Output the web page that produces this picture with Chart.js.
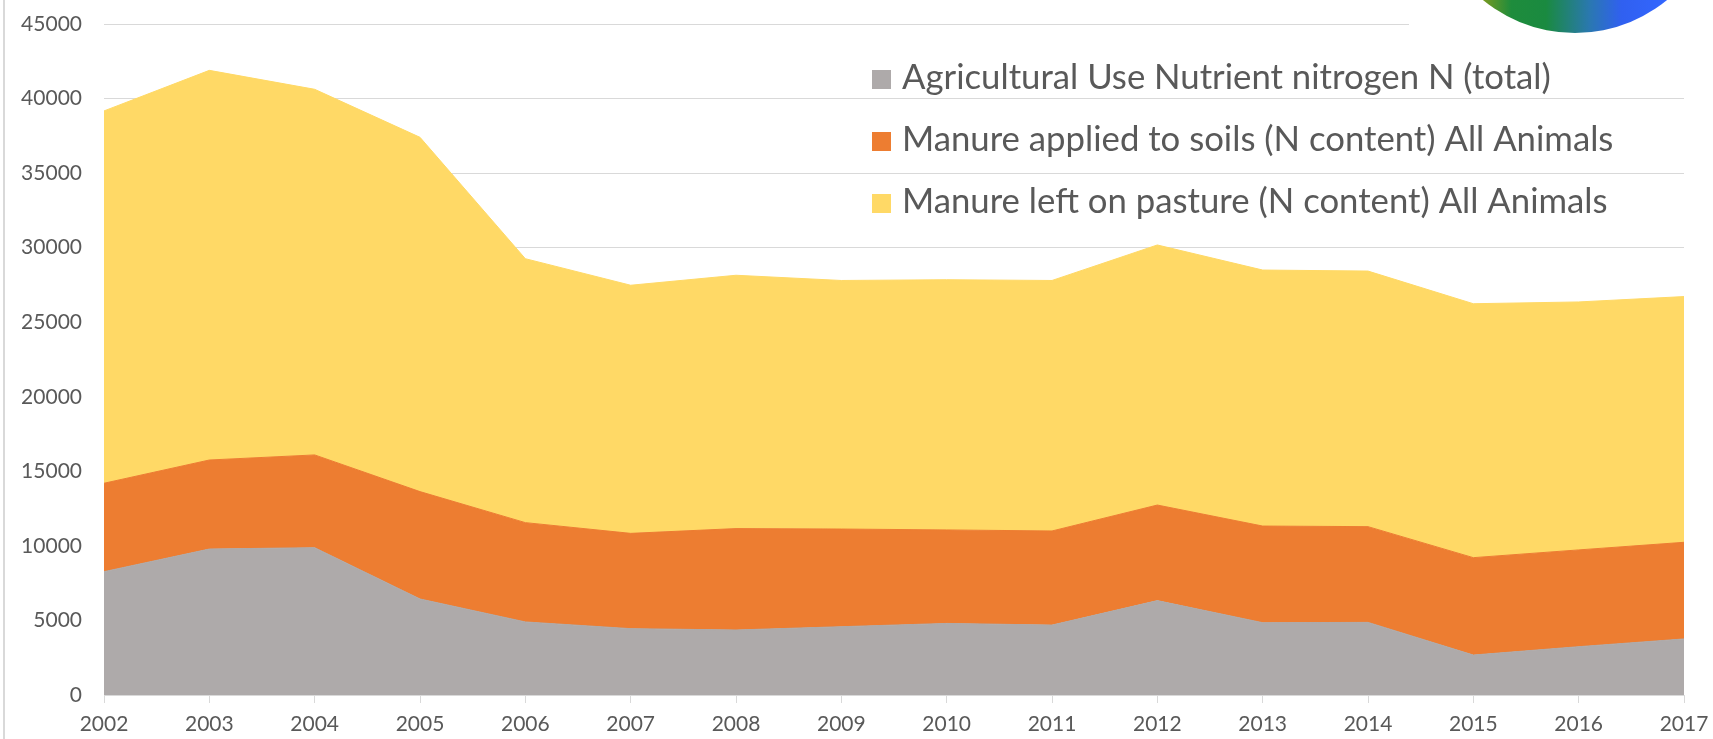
<!DOCTYPE html>
<html>
<head>
<meta charset="utf-8">
<script src="https://cdn.jsdelivr.net/npm/chart.js"></script>
<style>
  html, body { margin: 0; padding: 0; background: #ffffff; }
  #wrap { position: relative; width: 1713px; height: 739px; overflow: hidden; background: #ffffff; }
  #c { position: absolute; left: 0; top: 0; }
  #frameLeft { position: absolute; left: 3px; top: 0; width: 2px; height: 739px; background: #d9d9d9; }
  #logoBox { position: absolute; left: 1409px; top: 0; width: 304px; height: 40px; background: #ffffff; overflow: hidden; }
  #logo { position: absolute; left: 21px; top: -257px; width: 290px; height: 290px; border-radius: 50%;
          background: linear-gradient(90deg, #7a9a20 18%, #1e8c3c 28%, #1a8a40 40%, #2a78b0 55%, #3060f0 66%, #3366ff 82%); }
</style>
</head>
<body>
<div id="wrap">
  <canvas id="c" width="1713" height="739"></canvas>
  <div id="frameLeft"></div>
  <div id="logoBox"><div id="logo"></div></div>
</div>
<script>
// ---- data ----
const years = ['2002','2003','2004','2005','2006','2007','2008','2009','2010','2011','2012','2013','2014','2015','2016','2017'];
const agriculturalUseN = [8270, 9790, 9880, 6440, 4900, 4450, 4360, 4580, 4800, 4690, 6330, 4850, 4870, 2680, 3240, 3760];
const manureAppliedToSoils = [5930, 5970, 6220, 7200, 6660, 6390, 6800, 6550, 6270, 6310, 6410, 6480, 6420, 6530, 6490, 6480];
const manureLeftOnPasture = [24970, 26130, 24520, 23760, 17700, 16640, 16990, 16670, 16780, 16800, 17440, 17170, 17140, 17030, 16630, 16480];
const seriesLabels = [
  'Agricultural Use Nutrient nitrogen N (total)',
  'Manure applied to soils (N content) All Animals',
  'Manure left on pasture (N content) All Animals'
];
const yTickMin = 0, yTickMax = 45000, yTickStep = 5000;

const COLORS = ['#AEAAAA', '#ED7D31', '#FFD966'];
const TEXT = '#595959';
const GRID = '#d9d9d9';
const FONT = 'Lato';

const legendPlugin = {
  id: 'customLegend',
  afterDraw(chart) {
    const ctx = chart.ctx;
    ctx.save();
    let size = 34;
    ctx.font = size + 'px ' + FONT;
    const w = ctx.measureText(chart.data.datasets[0].label).width;
    size = size * 649 / w;
    ctx.font = size + 'px ' + FONT;
    const baselines = [89, 151, 213];
    chart.data.datasets.forEach((ds, i) => {
      const b = baselines[i];
      ctx.fillStyle = ds.backgroundColor;
      ctx.fillRect(872, b - 19, 19, 19);
      ctx.fillStyle = TEXT;
      ctx.textAlign = 'left';
      ctx.textBaseline = 'alphabetic';
      ctx.fillText(ds.label, 902, b);
    });
    ctx.restore();
  }
};

const mk = (label, data, color, fill) => ({
  label, data,
  backgroundColor: color,
  borderColor: color,
  borderWidth: 1,
  pointRadius: 0,
  pointHoverRadius: 0,
  tension: 0,
  fill
});

const noPad = s => { s.paddingTop = 0; s.paddingBottom = 0; s.paddingLeft = 0; s.paddingRight = 0; };

new Chart(document.getElementById('c'), {
  type: 'line',
  data: {
    labels: years,
    datasets: [
      mk(seriesLabels[0], agriculturalUseN, COLORS[0], 'origin'),
      mk(seriesLabels[1], manureAppliedToSoils, COLORS[1], '-1'),
      mk(seriesLabels[2], manureLeftOnPasture, COLORS[2], '-1')
    ]
  },
  options: {
    responsive: false,
    animation: false,
    devicePixelRatio: 1,
    layout: { padding: { left: 0, right: 29, top: 24, bottom: 0 } },
    plugins: { legend: { display: false }, tooltip: { enabled: false } },
    scales: {
      x: {
        offset: false,
        grid: { display: true, drawOnChartArea: false, drawTicks: true, tickLength: 8, color: GRID, lineWidth: 1 },
        border: { display: true, color: GRID, width: 1 },
        ticks: { color: TEXT, font: { family: FONT, size: 21 }, padding: 9, maxRotation: 0, autoSkip: false },
        afterFit(s) { s.height = 44; noPad(s); }
      },
      y: {
        stacked: true,
        min: yTickMin, max: yTickMax,
        grid: { color: GRID, lineWidth: 1, drawTicks: false },
        border: { display: false },
        ticks: { stepSize: yTickStep, color: TEXT, font: { family: FONT, size: 21 }, padding: 22,
                 callback: v => String(v) },
        afterFit(s) { s.width = 104; noPad(s); }
      }
    }
  },
  plugins: [legendPlugin]
});
</script>
</body>
</html>
